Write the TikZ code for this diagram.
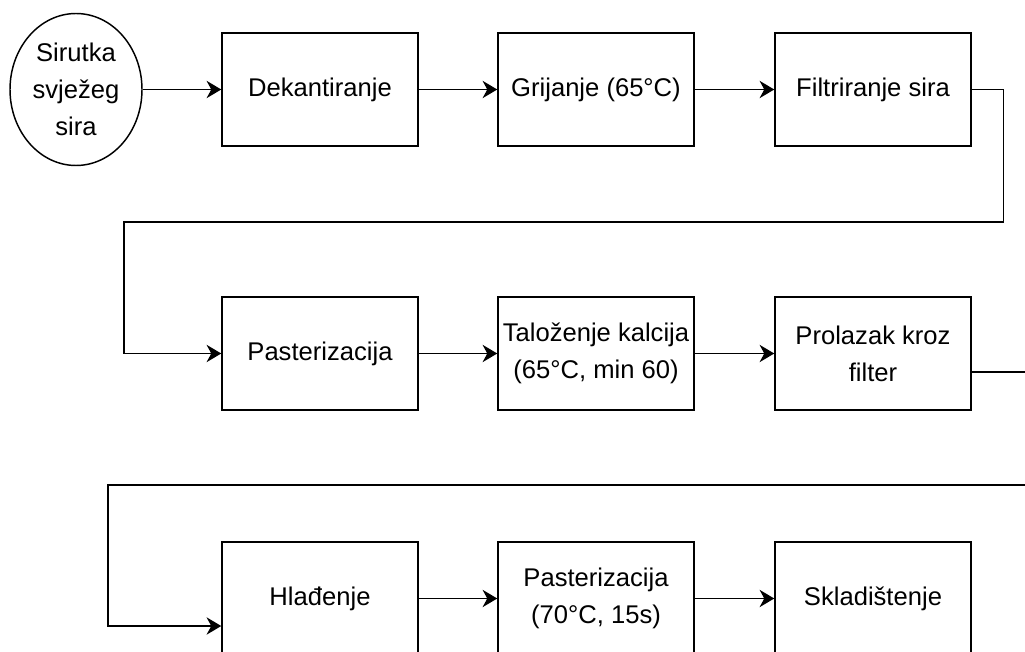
\documentclass[tikz,border=0pt]{standalone}
\usepackage{fontspec}
\setmainfont{Liberation Sans}
\usetikzlibrary{shapes,arrows.meta}

\begin{document}
\begin{tikzpicture}[
    x=0.75pt, y=-0.75pt,
    line width=1.1pt,
    txt/.style={font=\fontsize{19.2}{27.75}\selectfont},
    stage/.style={txt, draw, rectangle, minimum width=147pt, minimum height=85pt, inner sep=1pt, align=center},
    source/.style={txt, draw, ellipse, minimum width=99pt, minimum height=114pt, inner sep=0pt, align=center},
    flow/.style={-{Stealth[length=11pt,width=13pt,inset=3.5pt]}}
]

\useasboundingbox (0,0) rectangle (1025,652);
\clip (0,0) rectangle (1025,652);

% Row 1
\node[source] (siru) at (76,89.5) {Sirutka\\svježeg\\sira};
\node[stage] (dek) at (320,89.5) {Dekantiranje};
\node[stage] (grij) at (596,89.5) {Grijanje (65°C)};
\node[stage] (filt) at (873,89.5) {Filtriranje sira};

% Row 2
\node[stage] (past) at (320,353.5) {Pasterizacija};
\node[stage] (talo) at (596,353.5) {Taloženje kalcija\\(65°C, min 60)};
\node[stage] (prol) at (873,353.5) {Prolazak kroz\\filter};

% Row 3
\node[stage] (hlad) at (320,598.5) {Hlađenje};
\node[stage] (past2) at (596,598.5) {Pasterizacija\\(70°C, 15s)};
\node[stage] (skla) at (873,598.5) {Skladištenje};

% Loose ends at the right edge
\coordinate (out2) at (1025,372);
\coordinate (in3) at (1025,485);

% Connectors
\draw[flow] (siru) -- (dek);
\draw[flow] (dek) -- (grij);
\draw[flow] (grij) -- (filt);
\draw[flow] (filt.east) -- ++(32,0) |- (124,222) |- (past.west);
\draw[flow] (past) -- (talo);
\draw[flow] (talo) -- (prol);
\draw (prol.east |- out2) -- (out2);
\draw[flow] (in3) -| (108,626) -- (hlad.west |- 0,626);
\draw[flow] (hlad) -- (past2);
\draw[flow] (past2) -- (skla);

\end{tikzpicture}
\end{document}
